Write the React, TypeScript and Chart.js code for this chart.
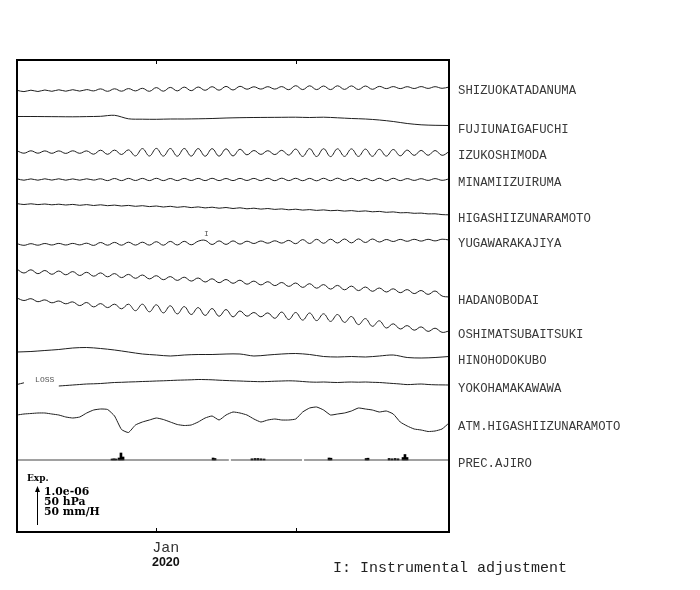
import React, { useEffect, useRef } from "react";
import { Chart, registerables } from "chart.js";

Chart.register(...registerables);

// ---------------- data ----------------
// Time axis: days since 22 Dec 2019 00:00 (10 = 1 Jan 2020, 20 = 11 Jan 2020)
const X_MIN = 0;
const X_MAX = 31;
const xTickValues = [10, 20];
const xTickLabels = ["Jan", ""];
const yearLabel = "2020";

// Values are deviations in units of 1/39 of the scale bar
// (scale bar = 1.0e-06 strain, 50 hPa, 50 mm/H), positive = up (expansion)
const stationNames = [
  "SHIZUOKATADANUMA",
  "FUJIUNAIGAFUCHI",
  "IZUKOSHIMODA",
  "MINAMIIZUIRUMA",
  "HIGASHIIZUNARAMOTO",
  "YUGAWARAKAJIYA",
  "HADANOBODAI",
  "OSHIMATSUBAITSUKI",
  "HINOHODOKUBO",
  "YOKOHAMAKAWAWA",
  "ATM.HIGASHIIZUNARAMOTO",
  "PREC.AJIRO",
];

// sampled every 0.5 day
const shizuokatadanuma = [
  -1.3, -2.6, -1.2, -2.5, -1.0, -2.3, -0.8, -2.2, -0.7, -2.1,
  -0.6, -1.9, 0.1, -2.3, 0.2, -2.2, 0.4, -1.9, 0.7, -2.3,
  1.4, -2.2, 1.6, -1.9, 1.9, -1.7, 2.0, -1.3, 2.3, -1.2,
  2.6, -1.0, 2.7, -0.2, 2.2, -0.1, 2.3, -0.1, 2.4, -0.7,
  3.3, -0.6, 3.2, -0.6, 3.0, -0.6, 3.2, -0.4, 3.1, -0.5,
  3.0, -0.3, 2.6, 0.4, 2.4, 0.4, 2.3, 0.5, 2.4, 0.6,
  2.3, 0.7, 2.0,
];
// sampled every 1 day
const fujiunaigafuchi = [
  2.5, 2.5, 2.4, 2.3, 2.2, 2.4, 2.7, 3.7, 0.2, -0.2,
  -0.3, 0, 0, 0.2, 0.5, 1.0, 1.3, 1.5, 1.6, 1.7,
  1.8, 1.5, 1.8, 1.2, 0.5, 0, -1.0, -2.5, -4.5, -5.8,
  -6.3, -6.5,
];
const izukoshimoda = [
  1.7, -0.7, 1.7, -0.7, 1.6, -0.8, 1.6, -0.9, 1.7, -0.8,
  1.6, -1.7, 2.3, -1.8, 2.4, -2.0, 2.6, -3.4, 3.9, -3.5,
  4.1, -3.6, 4.0, -3.7, 4.0, -3.6, 3.9, -3.7, 3.8, -3.6,
  3.6, -3.4, 3.2, -2.3, 2.0, -1.9, 1.8, -2.1, 2.2, -2.6,
  3.4, -3.9, 3.8, -4.0, 3.8, -4.1, 3.7, -3.9, 3.6, -3.9,
  3.4, -3.8, 3.2, -3.6, 3.0, -3.3, 2.4, -2.9, 2.1, -2.8,
  2.0, -2.8, 0.8,
];
const minamiizuiruma = [
  0.7, -0.7, 0.6, -0.7, 0.7, -0.6, 0.7, -0.7, 0.6, -0.7,
  0.7, -0.6, 0.7, -1.1, 1.0, -1.1, 1.1, -1.0, 1.1, -1.1,
  1.2, -1.1, 1.0, -1.1, 1.1, -1.0, 1.1, -1.1, 1.2, -1.1,
  1.0, -1.1, 1.1, -1.0, 1.1, -1.1, 1.2, -1.2, 1.3, -1.1,
  1.2, -1.2, 1.1, -1.3, 1.2, -1.2, 1.3, -1.1, 1.2, -1.2,
  1.1, -1.2, 1.2, -1.3, 1.2, -1.1, 0.9, -0.9, 0.8, -0.9,
  0.9, -0.8, 0.6,
];
const higashiizunaramoto = [
  5.9, 5.0, 5.7, 4.9, 5.5, 4.7, 5.3, 4.5, 5.1, 4.2,
  4.9, 4.0, 4.7, 3.8, 4.4, 3.5, 4.1, 3.2, 3.8, 2.9,
  3.5, 2.5, 3.2, 2.2, 2.9, 1.9, 2.6, 1.6, 2.3, 1.3,
  2.0, 1.0, 1.7, 0.7, 1.3, 0.4, 1.0, 0.1, 0.6, -0.3,
  0.3, -0.6, -0.1, -0.9, -0.4, -1.2, -0.8, -1.6, -1.1, -1.9,
  -1.4, -2.3, -1.9, -2.8, -2.4, -3.3, -3.1, -3.8, -3.6, -4.4,
  -4.3, -5.1, -5.3,
];
const yugawarakajiya = [
  -1.7, -3.3, -1.7, -3.2, -1.5, -3.0, -1.4, -3.0, -1.4, -2.9,
  -1.2, -3.4, -0.5, -3.2, -0.4, -3.2, -0.2, -3.1, -0.2, -3.1,
  0.3, -3.2, 0.6, -3.0, 0.7, -2.8, 0.8, 1.7, -2.5, 1.1,
  -2.4, 1.1, -2.1, 0.8, -1.5, 1.0, -1.2, 1.2, -1.1, 1.6,
  -1.7, 2.4, -1.5, 2.7, -1.3, 2.8, -1.0, 3.0, -0.9, 3.1,
  -0.5, 3.0, 0, 2.5, 0.5, 2.6, 0.7, 2.7, 0.9, 2.7,
  1.1, 2.8, 2.0,
];
const hadanobodai = [
  14.8, 11.0, 14.2, 10.3, 13.5, 9.7, 13.0, 9.2, 12.4, 8.5,
  11.7, 7.8, 11.1, 7.2, 10.4, 6.4, 9.6, 5.7, 9.0, 5.1,
  8.3, 4.3, 7.4, 3.6, 6.8, 2.9, 6.0, 2.0, 5.2, 1.3,
  4.5, 0.7, 3.8, -0.2, 2.9, -0.9, 2.3, -1.6, 1.5, -2.4,
  1.0, -3.4, 0.3, -4.2, -0.6, -5.1, -1.4, -5.8, -2.1, -6.6,
  -3.0, -7.3, -4.0, -8.0, -4.8, -8.7, -5.6, -9.6, -6.5, -10.4,
  -7.0, -12.0, -13.0,
];
const oshimatsubaitsuki = [
  17.0, 14.5, 16.3, 13.3, 15.1, 12.2, 14.0, 11.2, 13.1, 9.4,
  12.5, 8.1, 11.4, 7.4, 10.8, 6.2, 10.8, 4.3, 10.8, 3.2,
  10.2, 2.1, 9.2, 1.1, 8.4, 0.5, 7.4, -0.4, 6.4, -1.2,
  5.4, -1.8, 4.0, -1.2, 2.5, -1.8, 2.1, -3.3, 2.9, -4.5,
  2.5, -5.1, 2.0, -5.6, 1.2, -6.4, 0.5, -7.4, -1.5, -9.6,
  -3.6, -11.3, -5.8, -13.0, -8.8, -14.0, -10.6, -15.2, -11.9, -16.4,
  -13.2, -17.3, -16.0,
];
// sampled every 1 day
const hinohodokubo = [
  3, 3.5, 4.5, 5.5, 7, 7.5, 6.5, 5, 3, 1,
  0, -1, 0, 0.5, 0.5, 1, 1, -1, 0, 1,
  1.5, 0.5, -1.5, -2, -1.5, -2, -1, 0, -2.5, -3,
  -2.5, -1.5,
];
// sampled every 0.5 day, null = data loss
const yokohamakawawa = [
  -1.5, 0.2, null, null, null, null, -3, -2.5, -2, -1.5,
  -1, -0.8, -0.5, 0, 0.5, 0.7, 1, 1.2, 1.5, 1.7,
  2, 2.2, 2.5, 2.8, 3, 3.2, 3.5, 3.4, 3.2, 2.8,
  2.5, 2.2, 2, 1.7, 1.5, 1.3, 1.5, 1.8, 2, 2.2,
  2, 1.5, 1, 0.8, 1, 0.7, 0.5, 0.8, 1, 0.8,
  1, 0.7, 0.5, 0, -0.5, -1, -1.6, -1.3, -1, -1.5,
  -1.8, -1.9, -2,
];
const atmHigashiizunaramoto = [
  5, 6, 6.5, 7, 7, 6, 5, 3, 2, 3,
  7, 10, 11, 10.5, 4, -9.5, -12.5, -5, -2, 0,
  2, 0.5, -2, -4.5, -5.5, -5, -2, 2, 4, 0,
  5, 8, 7, 5, 1, -2, 0, 1, 0, 0,
  1, 8, 12, 13, 10, 5, 6, 7, 9, 12,
  11, 10, 8, 9, 6, -2, -6, -9, -10, -11.5,
  -11, -9, -3,
];
// precipitation (AJIRO): event times (days) and rates
const precTimes = [
  6.82, 6.96, 7.1, 7.32, 7.46, 7.61, 14.07, 14.21, 16.86, 17.08,
  17.29, 17.51, 17.73, 22.39, 22.53, 25.05, 25.19, 26.7, 26.91, 27.13,
  27.34, 27.7, 27.84, 27.99,
];
const precRates = [
  1, 1.2, 1, 2, 7, 3, 2, 1.5, 1.2, 1.5,
  1.5, 1.2, 1, 2, 1.8, 1.5, 1.8, 1.5, 1.2, 1.5,
  1.2, 2.5, 5.5, 2.5,
];
// precipitation record coverage (zero line), null = no record
const precRecordTimes = [0, 15.2, 15.27, 15.35, 20.45, 20.52, 20.6, 31];
const precRecordValues = [0, 0, null, 0, 0, null, 0, 0];

const adjustmentDay = 13.6; // "I" on YUGAWARAKAJIYA
const lossDay = 1.3; // "LOSS" on YOKOHAMAKAWAWA

// ---------------- layout ----------------
const Y_MAX = 472;
const SCALE_BAR = 39;
const traceBase = [443, 413, 379.5, 352.5, 322.5, 290, 248, 217, 177, 149, 112, 72];
const seriesValues: (number | null)[][] = [
  shizuokatadanuma, fujiunaigafuchi, izukoshimoda, minamiizuiruma,
  higashiizunaramoto, yugawarakajiya, hadanobodai, oshimatsubaitsuki,
  hinohodokubo, yokohamakawawa, atmHigashiizunaramoto,
];
const seriesStep = [0.5, 1, 0.5, 0.5, 0.5, 0.5, 0.5, 0.5, 1, 0.5, 0.5];
const seriesTension = [0.4, 0.3, 0.4, 0.4, 0.4, 0.4, 0.4, 0.4, 0.3, 0.3, 0.15];

const LINE_COLOR = "#1e1e1e";

export default function App() {
  const ref = useRef<HTMLCanvasElement>(null);

  useEffect(() => {
    const canvas = ref.current;
    if (!canvas) return;

    const datasets: any[] = seriesValues.map((vals, k) => ({
      type: "line",
      data: vals.map((v, i) => ({ x: i * seriesStep[k], y: v == null ? null : traceBase[k] + v })),
      borderColor: LINE_COLOR,
      borderWidth: 1,
      pointRadius: 0,
      tension: seriesTension[k],
      spanGaps: false,
      yAxisID: "y",
    }));
    const pb = traceBase[11];
    datasets.push({
      type: "line",
      data: precRecordTimes.map((t, i) => ({ x: t, y: precRecordValues[i] == null ? null : pb + (precRecordValues[i] as number) })),
      borderColor: "#444",
      borderWidth: 1.2,
      pointRadius: 0,
      tension: 0,
      spanGaps: false,
      yAxisID: "y",
    });
    datasets.push({
      type: "bar",
      data: precTimes.map((t, i) => ({ x: t, y: [pb, pb + precRates[i]] })),
      backgroundColor: "#000",
      borderWidth: 0,
      barThickness: 2,
      grouped: false,
      yAxisID: "y",
    });

    const endValues = stationNames.map((_, k) => {
      if (k >= seriesValues.length) return traceBase[k];
      const vals = seriesValues[k];
      let last = 0;
      for (let i = vals.length - 1; i >= 0; i--) {
        if (vals[i] != null) { last = vals[i] as number; break; }
      }
      return traceBase[k] + last;
    });

    const decor = {
      id: "decor",
      afterDraw(chart: any) {
        const { ctx, chartArea: a, scales } = chart;
        const x = scales.x;
        const y = scales.y;
        ctx.save();
        // inner ticks
        ctx.strokeStyle = "#000";
        ctx.lineWidth = 1;
        xTickValues.forEach((t) => {
          const px = Math.round(x.getPixelForValue(t)) + 0.5;
          ctx.beginPath();
          ctx.moveTo(px, a.top);
          ctx.lineTo(px, a.top + 4);
          ctx.moveTo(px, a.bottom - 4);
          ctx.lineTo(px, a.bottom);
          ctx.stroke();
        });
        // frame
        ctx.lineWidth = 2;
        ctx.strokeRect(a.left, a.top, a.right - a.left, a.bottom - a.top);

        // year label
        ctx.fillStyle = "#111";
        ctx.font = 'bold 12.5px "Liberation Sans"';
        ctx.textAlign = "center";
        ctx.textBaseline = "alphabetic";
        ctx.fillText(yearLabel, x.getPixelForValue(xTickValues[0]) + 9.5, 565.5);

        // scale legend
        const ax = a.left + 20;
        const y0 = y.getPixelForValue(7);
        const y1 = y.getPixelForValue(7 + SCALE_BAR);
        ctx.lineWidth = 1;
        ctx.beginPath();
        ctx.moveTo(ax + 0.5, y0);
        ctx.lineTo(ax + 0.5, y1 + 4);
        ctx.stroke();
        ctx.beginPath();
        ctx.moveTo(ax + 0.5, y1);
        ctx.lineTo(ax - 2, y1 + 6);
        ctx.lineTo(ax + 3, y1 + 6);
        ctx.closePath();
        ctx.fillStyle = "#000";
        ctx.fill();
        ctx.textAlign = "left";
        ctx.font = 'bold 9px "DejaVu Serif"';
        ctx.fillText("Exp.", a.left + 10, 481);
        ctx.font = 'bold 10.8px "DejaVu Serif"';
        ctx.fillText("1.0e-06", a.left + 27, 495);
        ctx.fillText("50 hPa", a.left + 27, 504.5);
        ctx.fillText("50 mm/H", a.left + 27, 514.5);

        // LOSS and adjustment marks
        ctx.fillStyle = "#555";
        ctx.font = '8px "Liberation Mono"';
        ctx.fillText("LOSS", x.getPixelForValue(lossDay), y.getPixelForValue(traceBase[9] + 1));
        ctx.textAlign = "center";
        ctx.fillText("I", x.getPixelForValue(adjustmentDay), y.getPixelForValue(traceBase[5] + 6));

        // footnote
        ctx.fillStyle = "#222";
        ctx.textAlign = "left";
        ctx.font = '15px "Liberation Mono"';
        ctx.fillText("I: Instrumental adjustment", 333, 572);
        ctx.restore();
      },
    };

    const chart = new Chart(canvas, {
      type: "line",
      data: { datasets },
      options: {
        animation: false,
        responsive: false,
        maintainAspectRatio: false,
        layout: { padding: { left: 17, top: 60, right: 0, bottom: 0 } },
        plugins: { legend: { display: false }, tooltip: { enabled: false } },
        scales: {
          x: {
            type: "linear",
            min: X_MIN,
            max: X_MAX,
            offset: false,
            grid: { display: false, drawTicks: false },
            border: { display: false },
            afterBuildTicks: (s: any) => {
              s.ticks = xTickValues.map((v) => ({ value: v }));
            },
            afterFit: (s: any) => {
              s.height = 58;
            },
            ticks: {
              autoSkip: false,
              maxRotation: 0,
              padding: 7,
              labelOffset: 9.5,
              color: "#333",
              font: { family: "Liberation Mono", size: 15 },
              callback: (_v: any, i: number) => xTickLabels[i],
            },
          },
          y: {
            type: "linear",
            min: 0,
            max: Y_MAX,
            display: false,
          },
          yR: {
            type: "linear",
            position: "right",
            min: 0,
            max: Y_MAX,
            grid: { display: false, drawTicks: false },
            border: { display: false },
            afterBuildTicks: (s: any) => {
              s.ticks = endValues.map((v) => ({ value: v }));
            },
            afterFit: (s: any) => {
              s.width = 251;
            },
            ticks: {
              autoSkip: false,
              padding: 9,
              labelOffset: 4,
              color: "#383838",
              font: { family: "Liberation Mono", size: 12.3 },
              callback: (_v: any, i: number) => stationNames[i],
            },
          },
        },
      } as any,
      plugins: [decor],
    } as any);

    return () => chart.destroy();
  }, []);

  return (
    <div style={{ position: "fixed", left: 0, top: 0, width: 700, height: 590, background: "#fff" }}>
      <canvas ref={ref} width={700} height={590} style={{ display: "block", width: 700, height: 590 }} />
    </div>
  );
}
